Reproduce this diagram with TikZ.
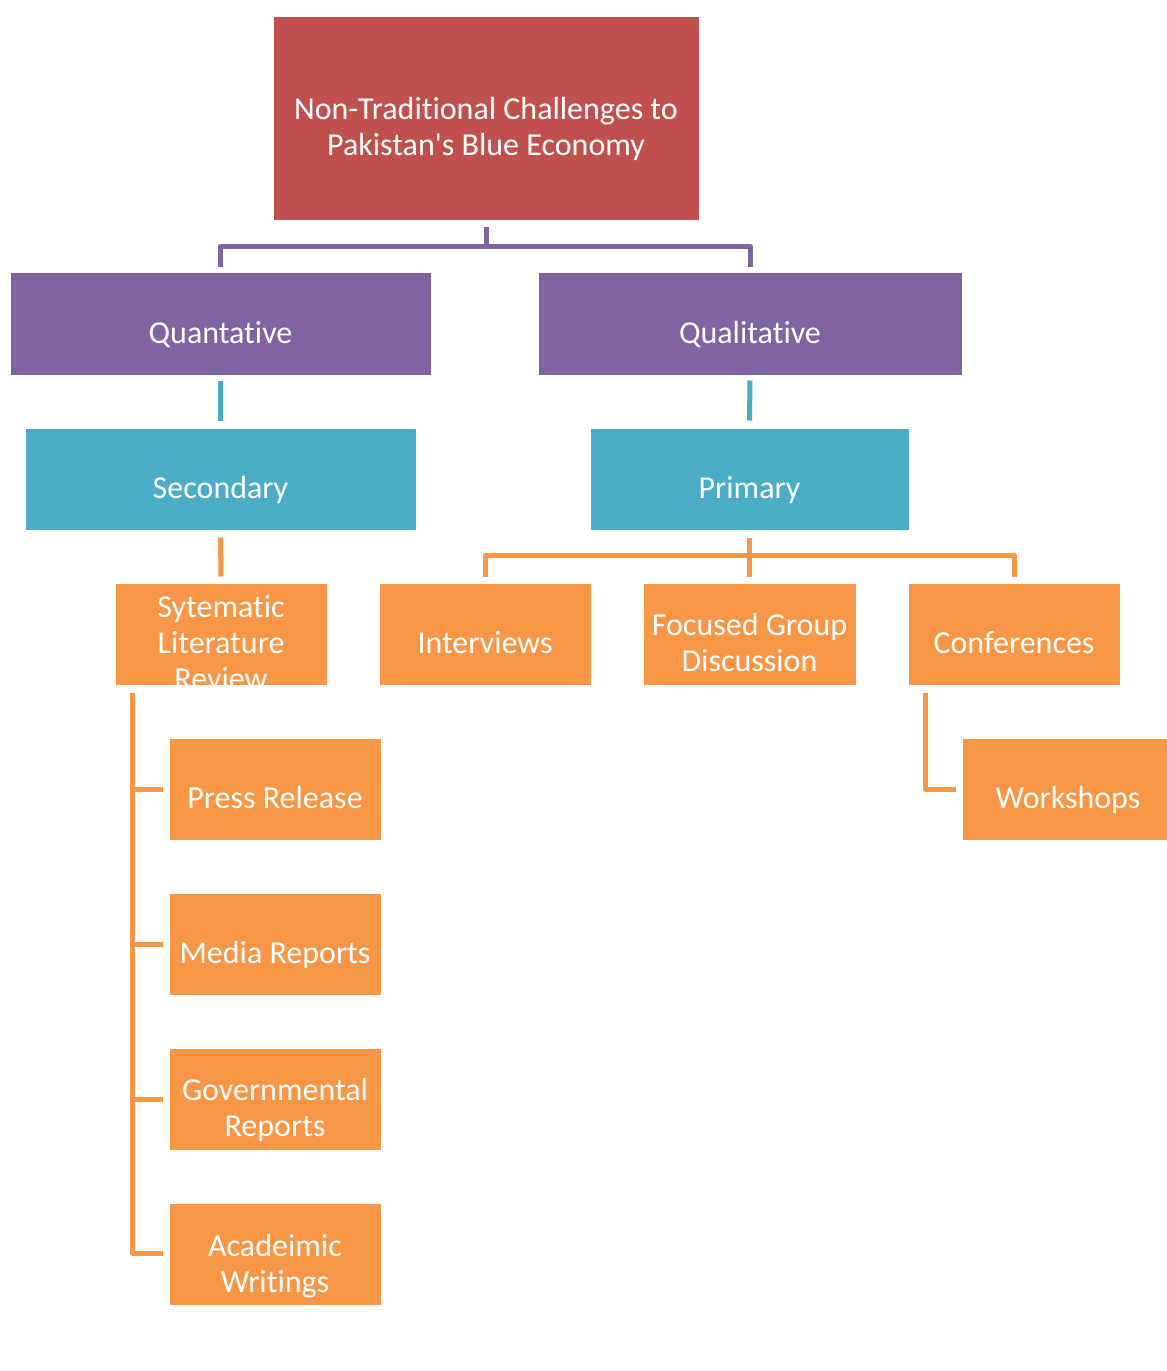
\documentclass[tikz,border=0pt]{standalone}
\usepackage{fontspec}
\newfontfamily\carlito{Carlito}[Ligatures={NoCommon}]
\usetikzlibrary{calc}
\definecolor{cred}{HTML}{C0504D}
\definecolor{cpurple}{HTML}{8064A2}
\definecolor{cteal}{HTML}{4BACC6}
\definecolor{corange}{HTML}{F79646}
\newcommand\lowered[1]{\raisebox{-12.5pt}[\height][\depth]{\begin{tabular}{@{}c@{}}#1\end{tabular}}}
\tikzset{
  box/.style={draw=white, line width=1pt, text=white,
    font=\carlito\fontsize{32}{36}\selectfont, inner sep=0pt},
  redbox/.style={box, fill=cred},
  purplebox/.style={box, fill=cpurple},
  tealbox/.style={box, fill=cteal},
  orangebox/.style={box, fill=corange},
  conn/.style={line width=5pt, line join=round},
  pl/.style={conn, draw=cpurple},
  tl/.style={conn, draw=cteal},
  ol/.style={conn, draw=corange},
}
\begin{document}
\begin{tikzpicture}[x=1pt,y=-1pt]
\useasboundingbox (0,0) rectangle (1167,1371);
\fill[white] (0,0) rectangle (1167,1371);

% boxes
\node[redbox, minimum width=426, minimum height=204] (root) at (486,118)
  {\lowered{Non-Traditional Challenges to\\Pakistan's Blue Economy}};
\node[purplebox, minimum width=421, minimum height=103] (quant) at (220.5,323.5) {\lowered{Quantative}};
\node[purplebox, minimum width=424, minimum height=103] (qual) at (750,323.5) {\lowered{Qualitative}};
\node[tealbox, minimum width=391, minimum height=102] (sec) at (220.5,479) {\lowered{Secondary}};
\node[tealbox, minimum width=319, minimum height=102] (prim) at (749.5,479) {\lowered{Primary}};

\node[orangebox, minimum width=212, minimum height=102] (slr) at (221,634) {};
\begin{scope}
  \clip (slr.south west) rectangle (slr.north east);
  \node[box, draw=none] (slrtext) at (slr.center) {\lowered{Sytematic\\Literature\\Review}};
\end{scope}
\node[orangebox, minimum width=212, minimum height=102] (int) at (485,634) {\lowered{Interviews}};
\node[orangebox, minimum width=213, minimum height=102] (fgd) at (749.5,634) {\lowered{Focused Group\\Discussion}};
\node[orangebox, minimum width=212, minimum height=102] (conf) at (1014,634) {\lowered{Conferences}};

\node[orangebox, minimum width=212, minimum height=102] (press) at (275,789) {\lowered{Press Release}};
\node[orangebox, minimum width=212, minimum height=102] (media) at (275,944) {\lowered{Media Reports}};
\node[orangebox, minimum width=212, minimum height=102] (gov) at (275,1099) {\lowered{Governmental\\Reports}};
\node[orangebox, minimum width=212, minimum height=102] (acad) at (275,1254.5) {\lowered{Acadeimic\\Writings}};
\node[orangebox, minimum width=212, minimum height=102] (work) at (1068,789) {\lowered{Workshops}};

% connectors: level 1
\draw[pl] ($(root.south)+(0,6)$) -- ++(0,20) coordinate (rj);
\draw[pl] ($(quant.north)+(0,-5)$) |- (rj) -| ($(qual.north)+(0,-5)$);

% level 2
\draw[tl] ($(quant.south)+(0,5)$) -- ($(sec.north)+(0,-7)$);
\draw[tl] ($(qual.south)+(0,5)$) -- ($(prim.north)+(0,-7)$);

% level 3
\draw[ol] ($(sec.south)+(0,7)$) -- ($(slr.north)+(0,-6)$);
\draw[ol] ($(prim.south)+(0,7)$) -- ($(fgd.north)+(0,-6)$);
\draw[ol] ($(int.north)+(0,-6)$) -- ++(0,-21) -| ($(conf.north)+(0,-6)$);

% left tree
\coordinate (lt) at ($(slr.south west)+(18,7)$);
\draw[ol] (lt) |- ($(acad.west)+(-6,-1.5)$);
\draw[ol] (press.west -| lt) -- ($(press.west)+(-6,0)$);
\draw[ol] (media.west -| lt) -- ($(media.west)+(-6,0)$);
\draw[ol] (gov.west -| lt) -- ($(gov.west)+(-6,0)$);

% workshops
\coordinate (rt) at ($(conf.south west)+(18,7)$);
\draw[ol] (rt) |- ($(work.west)+(-6,0)$);
\end{tikzpicture}
\end{document}
